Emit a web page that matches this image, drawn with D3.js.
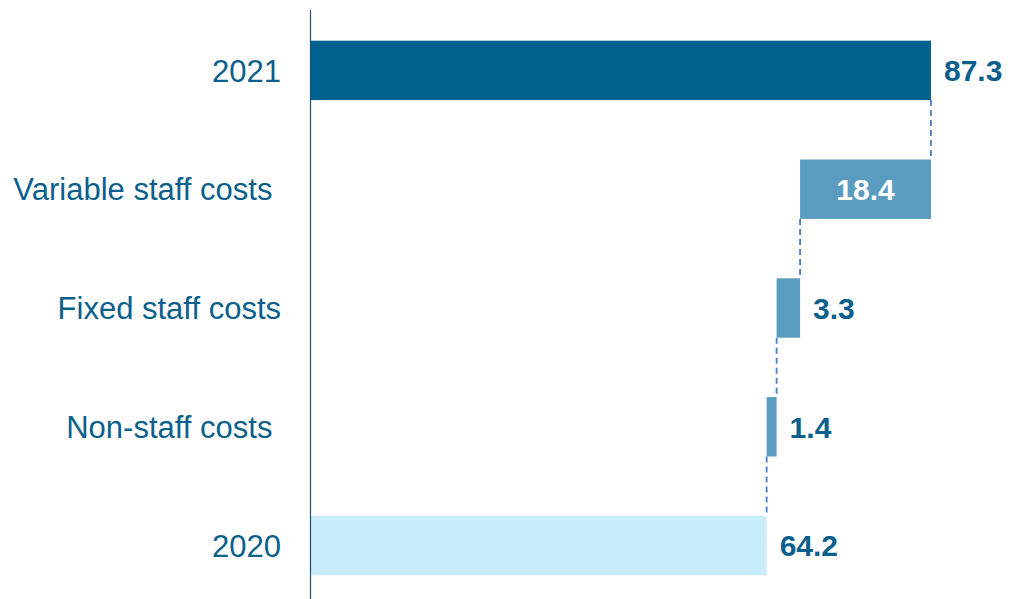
<!DOCTYPE html>
<html>
<head>
<meta charset="utf-8">
<script src="https://cdn.jsdelivr.net/npm/d3@7"></script>
<style>
  html, body { margin: 0; padding: 0; background: #ffffff; }
  svg { display: block; }
  text { font-family: "Liberation Sans", Arial, sans-serif; white-space: pre; }
</style>
</head>
<body>
<svg id="chart" width="1009" height="599"></svg>
<script>
// Waterfall: 2021 total, the three cost drivers, 2020 total
const categories = ["2021", "Variable staff costs ", "Fixed staff costs", "Non-staff costs ", "2020"];
const values = [87.3, 18.4, 3.3, 1.4, 64.2];
const kinds = ["total", "delta", "delta", "delta", "total"];
const valueLabels = ["87.3", "18.4", "3.3", "1.4", "64.2"];

const colors = { total2021: "#00628f", delta: "#5a9cbf", total2020: "#c8ecfc" };
const textColor = "#0b5f8c";

const svg = d3.select("#chart");

const y = d3.scaleBand()
  .domain(categories)
  .range([11, 605])
  .paddingInner(0.5)
  .paddingOuter(0.25);

const x = d3.scaleLinear()
  .domain([0, 100])
  .range([310, 1021.3]);

// Compute start/end of each bar: deltas step down from the 2021 total
let running = values[0];
const bars = categories.map((c, i) => {
  if (kinds[i] === "total") {
    return { c, i, x0: 0, x1: values[i] };
  }
  const b = { c, i, x0: running - values[i], x1: running };
  running -= values[i];
  return b;
});

function fillFor(b) {
  if (kinds[b.i] === "delta") return colors.delta;
  return b.i === 0 ? colors.total2021 : colors.total2020;
}

// Dashed connectors between consecutive bars
const connectors = [];
for (let i = 0; i < bars.length - 1; i++) {
  const cur = bars[i], nxt = bars[i + 1];
  const xv = kinds[i] === "total" ? cur.x1 : cur.x0;
  connectors.push({ xv, y0: y(cur.c) + y.bandwidth(), y1: y(nxt.c) });
}

svg.append("g").selectAll("line")
  .data(connectors)
  .join("line")
  .attr("x1", d => x(d.xv))
  .attr("x2", d => x(d.xv))
  .attr("y1", d => d.y0)
  .attr("y2", d => d.y1)
  .attr("stroke", "#4a7cc9")
  .attr("stroke-width", 1.8)
  .attr("stroke-dasharray", "6,4");

svg.append("g").selectAll("rect")
  .data(bars)
  .join("rect")
  .attr("x", d => x(d.x0))
  .attr("width", d => x(d.x1) - x(d.x0))
  .attr("y", d => y(d.c))
  .attr("height", y.bandwidth())
  .attr("fill", fillFor);

const inside = d => kinds[d.i] === "delta" && x(d.x1) - x(d.x0) > 80;

// Value labels: inside the wide delta bar, otherwise to the right
svg.append("g").selectAll("text")
  .data(bars)
  .join("text")
  .attr("x", d => inside(d) ? (x(d.x0) + x(d.x1)) / 2 : x(d.x1) + 13)
  .attr("y", d => y(d.c) + y.bandwidth() / 2)
  .attr("dy", "0.36em")
  .attr("text-anchor", d => inside(d) ? "middle" : "start")
  .attr("font-size", 30)
  .attr("font-weight", "bold")
  .attr("fill", d => inside(d) ? "#ffffff" : textColor)
  .text(d => valueLabels[d.i]);

// Category axis
const yAxis = svg.append("g")
  .attr("transform", "translate(310,0)")
  .call(d3.axisLeft(y).tickSize(0).tickPadding(29));
yAxis.select(".domain").remove();
yAxis.selectAll("text")
  .attr("font-size", 31)
  .attr("font-family", "'Liberation Sans', Arial, sans-serif")
  .attr("fill", textColor)
  .attr("dy", "0.36em");

svg.append("line")
  .attr("x1", 310.5).attr("x2", 310.5)
  .attr("y1", 10).attr("y2", 599)
  .attr("stroke", "#1f4e79")
  .attr("stroke-width", 1.2);
</script>
</body>
</html>
